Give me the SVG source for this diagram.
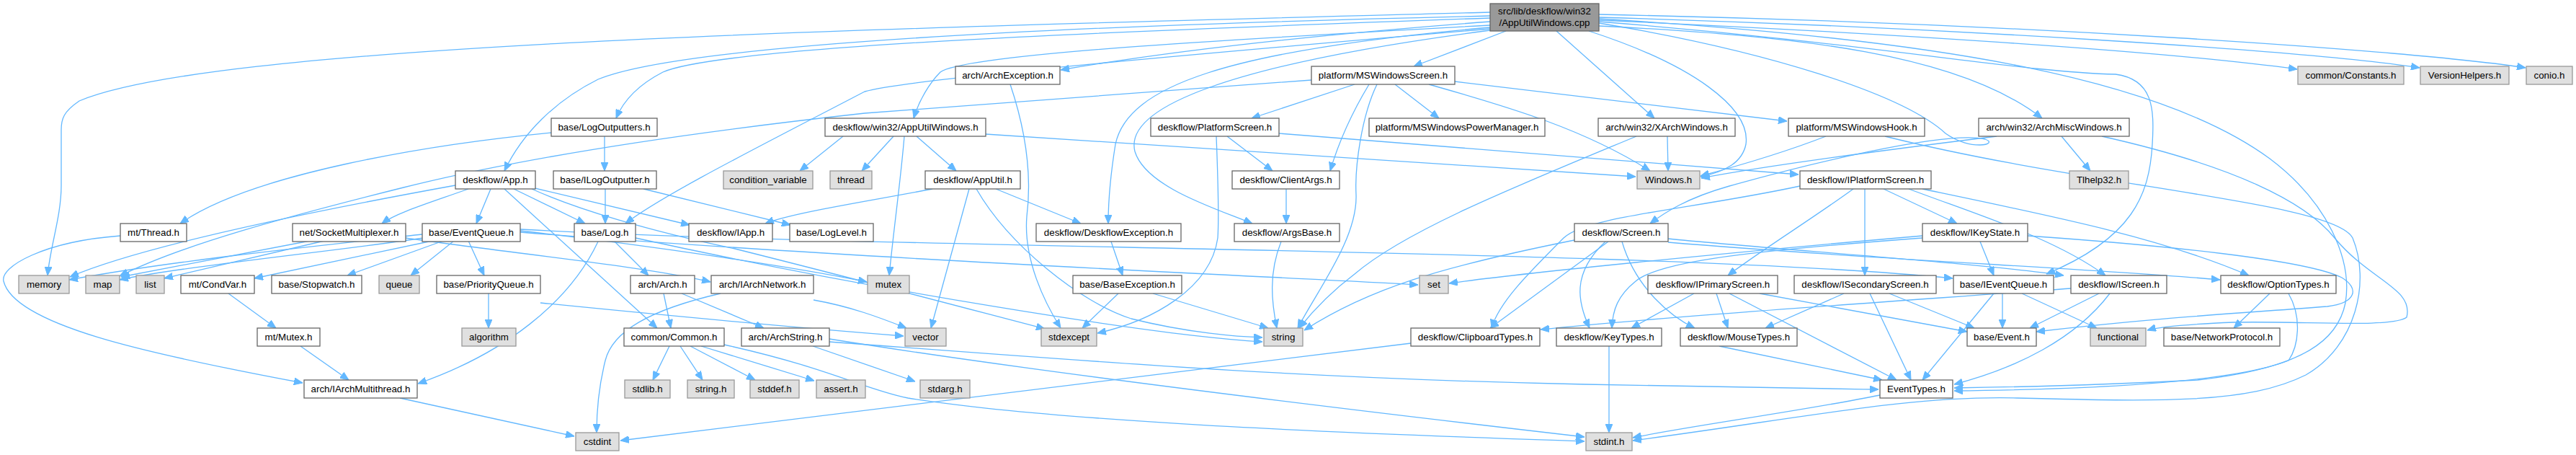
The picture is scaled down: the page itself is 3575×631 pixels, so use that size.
<svg xmlns="http://www.w3.org/2000/svg" width="3575" height="631" viewBox="0 0 3575 631">
<style>
text{font-family:"Liberation Sans",Arial,sans-serif;font-size:13.33px;text-anchor:middle;fill:#000}
.n rect{fill:#fff;stroke:#666;stroke-width:1.3}
.g rect{fill:#e0e0e0;stroke:#999;stroke-width:1.3}
.r rect{fill:#999;stroke:#666;stroke-width:1.3}
#edges path{fill:none;stroke:#63b8ff;stroke-width:1.3;marker-end:url(#a)}
</style>
<defs>
<marker id="a" viewBox="0 0 12 10" refX="12" refY="5" markerWidth="12" markerHeight="10" markerUnits="userSpaceOnUse" orient="auto"><path d="M0,0L12,5L0,10z" fill="#63b8ff" stroke="#63b8ff"/></marker>
</defs>
<rect width="3575" height="631" fill="#fff"/>
<g id="edges">
<path d="M2068,30 C1800,50 1600,75 1472,97"/>
<path d="M2090,43 L1962,92"/>
<path d="M2219,28 C2600,45 3000,70 3188,96"/>
<path d="M2219,24 C2700,38 3200,70 3358,94"/>
<path d="M2219,20 C2800,32 3350,70 3505,94"/>
<path d="M2068,25 C1500,45 1000,65 920,100 C885,118 865,140 855,164"/>
<path d="M2068,22 C1500,35 950,60 830,110 C770,140 725,185 700,237"/>
<path d="M2068,17 C1200,40 300,60 110,140 C88,155 85,165 85,180 L85,257 C85,300 70,340 66,382"/>
<path d="M2068,35 C1700,55 1340,75 1305,100 C1290,115 1275,140 1268,164"/>
<path d="M2068,40 C1600,80 1260,110 1200,127 C1060,200 920,270 868,310"/>
<path d="M2068,38 C1700,70 1565,120 1548,200 C1540,250 1538,290 1538,310"/>
<path d="M2068,42 C1700,90 1560,150 1575,210 C1590,260 1690,290 1738,310"/>
<path d="M2160,43 L2296,164"/>
<path d="M2219,36 C2500,50 2720,75 2834,164"/>
<path d="M2205,43 C2350,90 2430,150 2423,200 C2418,225 2395,238 2360,245"/>
<path d="M2219,32 C2450,70 2640,130 2700,185 C2735,210 2775,200 2755,193 C2700,180 2500,230 2400,258 C2340,275 2310,295 2290,310"/>
<path d="M2219,30 C2600,60 2800,100 2936,103 C2988,110 2990,150 2987,200 C2983,270 2960,330 2840,380"/>
<path d="M2219,26 C2700,55 3000,110 3150,220 C3230,280 3265,360 3255,420 C3245,470 3200,510 3050,527 C2900,535 2780,537 2712,538"/>
<path d="M1880,117 L1737,164"/>
<path d="M1936,117 L1997,164"/>
<path d="M1983,117 C2100,150 2200,180 2290,237"/>
<path d="M2019,113 L2480,168"/>
<path d="M1900,117 C1880,150 1860,190 1846,237"/>
<path d="M1911,117 C1890,160 1880,230 1882,270 C1884,330 1830,400 1801,455"/>
<path d="M1820,111 L1200,157 C900,190 700,225 560,260 C400,300 250,340 166,383"/>
<path d="M1775,185 L2496,242"/>
<path d="M1703,189 L1766,237"/>
<path d="M1688,189 C1690,240 1692,300 1690,330 C1680,400 1600,445 1523,462"/>
<path d="M1785,262 L1785,310"/>
<path d="M1778,335 C1760,380 1765,420 1772,455"/>
<path d="M1170,189 L1110,237"/>
<path d="M1240,189 L1196,237"/>
<path d="M1255,189 C1250,250 1240,320 1234,382"/>
<path d="M1272,189 L1327,237"/>
<path d="M1368,186 L2270,245"/>
<path d="M1294,262 C1200,280 1100,295 1062,310"/>
<path d="M1345,262 L1292,455"/>
<path d="M1355,262 C1400,340 1500,420 1570,442 C1650,462 1720,467 1752,468"/>
<path d="M1382,262 L1500,310"/>
<path d="M1542,335 L1558,382"/>
<path d="M1552,407 L1502,455"/>
<path d="M1600,407 L1760,455"/>
<path d="M1402,117 C1430,200 1430,260 1425,300 C1420,360 1450,420 1472,455"/>
<path d="M839,189 L839,237"/>
<path d="M765,184 C600,200 350,240 250,310"/>
<path d="M840,262 L840,310"/>
<path d="M893,262 L1097,312"/>
<path d="M650,262 C600,280 550,295 530,310"/>
<path d="M632,257 C450,290 200,340 97,384"/>
<path d="M681,262 L661,310"/>
<path d="M700,262 L912,455"/>
<path d="M713,262 L812,310"/>
<path d="M738,260 L957,312"/>
<path d="M738,262 C800,290 900,320 1020,345 C1200,390 1350,430 1450,456"/>
<path d="M586,325 C450,340 250,360 96,388"/>
<path d="M588,330 C450,350 250,370 166,388"/>
<path d="M600,334 L353,386"/>
<path d="M615,334 L482,382"/>
<path d="M630,334 L570,382"/>
<path d="M650,334 L672,382"/>
<path d="M722,320 C900,340 1100,370 1203,391"/>
<path d="M722,322 C1200,360 1800,385 1968,395"/>
<path d="M722,318 C1200,345 2300,345 2710,386"/>
<path d="M430,334 L168,384"/>
<path d="M450,334 L228,386"/>
<path d="M563,330 C700,350 900,370 986,391"/>
<path d="M853,335 L900,382"/>
<path d="M830,335 C790,420 700,490 580,532"/>
<path d="M882,330 C1200,400 1600,465 1752,474"/>
<path d="M921,407 L931,455"/>
<path d="M946,407 L1060,455"/>
<path d="M929,480 L906,527"/>
<path d="M944,480 L975,527"/>
<path d="M958,480 L1048,527"/>
<path d="M973,480 L1130,528"/>
<path d="M1005,478 C1150,510 1200,540 1260,552 C1500,590 2000,605 2199,612"/>
<path d="M1128,480 L1270,529"/>
<path d="M1151,470 C1400,510 1800,560 2199,606"/>
<path d="M1151,474 C1500,500 1800,525 2200,533 C2400,537 2500,539 2607,540"/>
<path d="M317,407 L383,455"/>
<path d="M417,480 L484,527"/>
<path d="M167,327 C60,335 0,370 5,390 C20,450 200,490 420,531"/>
<path d="M678,407 L678,455"/>
<path d="M750,420 C950,440 1150,458 1254,466"/>
<path d="M555,552 L797,605"/>
<path d="M1000,407 C900,430 850,460 840,500 C830,540 828,570 828,600"/>
<path d="M1129,416 C1180,425 1220,440 1258,455"/>
<path d="M1958,476 C1500,530 1100,580 861,611"/>
<path d="M2233,480 L2233,600"/>
<path d="M2386,480 L2612,527"/>
<path d="M2609,548 C2500,570 2350,590 2266,607"/>
<path d="M2616,189 C2900,260 3240,280 3265,330 C3290,390 3270,480 3200,520 C3120,560 3000,557 2800,552 C2650,548 2500,580 2266,611"/>
<path d="M2351,407 L2264,455"/>
<path d="M2382,407 L2398,455"/>
<path d="M2442,407 L2730,460"/>
<path d="M2400,407 L2632,527"/>
<path d="M2559,407 L2450,455"/>
<path d="M2595,407 L2652,527"/>
<path d="M2622,407 L2740,455"/>
<path d="M2779,407 L2779,455"/>
<path d="M2767,407 L2668,527"/>
<path d="M2806,407 L2910,455"/>
<path d="M2913,407 L2817,455"/>
<path d="M2928,407 C2880,470 2800,510 2712,533"/>
<path d="M2874,400 C2600,420 2300,440 2138,457"/>
<path d="M2748,335 L2767,382"/>
<path d="M2668,327 C2400,350 2100,380 2011,393"/>
<path d="M2668,330 C2400,350 2300,365 2270,390 C2245,410 2238,430 2237,455"/>
<path d="M2814,327 C3000,340 3200,360 3250,385 C3275,400 3270,420 3230,425 C3100,435 3000,440 2826,460"/>
<path d="M2572,262 C2520,300 2440,350 2398,382"/>
<path d="M2588,262 L2588,382"/>
<path d="M2614,262 L2716,310"/>
<path d="M2649,262 C2750,300 2850,330 2922,382"/>
<path d="M2668,262 C2850,300 3000,330 3121,382"/>
<path d="M2498,258 C2350,290 2200,300 2170,330 C2120,380 2080,420 2070,455"/>
<path d="M2232,335 L2068,455"/>
<path d="M2228,335 C2180,380 2190,420 2206,455"/>
<path d="M2251,335 C2270,400 2320,440 2352,455"/>
<path d="M2185,333 C2000,370 1900,400 1810,458"/>
<path d="M2315,331 C2450,345 2750,365 2864,382"/>
<path d="M2315,336 C2600,360 2900,372 3081,388"/>
<path d="M2314,189 L2315,237"/>
<path d="M2271,189 C2100,260 1950,320 1880,380 C1840,410 1815,440 1803,455"/>
<path d="M2534,189 C2480,210 2420,228 2360,244"/>
<path d="M2771,189 C2600,210 2450,230 2361,247"/>
<path d="M2861,189 L2901,237"/>
<path d="M2917,189 C3100,230 3200,280 3240,330 C3290,390 3350,400 3340,440 C3320,455 3200,445 3100,447 C3050,449 3000,452 2980,458"/>
<path d="M3150,407 L3100,455"/>
<path d="M3176,407 C3195,440 3190,480 3176,500 C3100,530 2900,540 2712,542"/>
</g>
<g id="root" class="r"><rect x="2068" y="5" width="151" height="38"/><text x="2143.5" y="20">src/lib/deskflow/win32</text><text x="2143.5" y="36">/AppUtilWindows.cpp</text></g>
<g id="archException" class="n"><rect x="1326" y="92" width="145" height="25"/><text x="1398.5" y="109">arch/ArchException.h</text></g>
<g id="msWindowsScreen" class="n"><rect x="1820" y="92" width="199" height="25"/><text x="1919.5" y="109">platform/MSWindowsScreen.h</text></g>
<g id="constants" class="g"><rect x="3189" y="92" width="147" height="25"/><text x="3262.5" y="109">common/Constants.h</text></g>
<g id="versionHelpers" class="g"><rect x="3359" y="92" width="123" height="25"/><text x="3420.5" y="109">VersionHelpers.h</text></g>
<g id="conio" class="g"><rect x="3506" y="92" width="64" height="25"/><text x="3538" y="109">conio.h</text></g>
<g id="logOutputters" class="n"><rect x="765" y="164" width="147" height="25"/><text x="838.5" y="181">base/LogOutputters.h</text></g>
<g id="appUtilWindowsH" class="n"><rect x="1145" y="164" width="223" height="25"/><text x="1256.5" y="181">deskflow/win32/AppUtilWindows.h</text></g>
<g id="platformScreen" class="n"><rect x="1597" y="164" width="178" height="25"/><text x="1686" y="181">deskflow/PlatformScreen.h</text></g>
<g id="powerManager" class="n"><rect x="1900" y="164" width="244" height="25"/><text x="2022" y="181">platform/MSWindowsPowerManager.h</text></g>
<g id="xArchWindows" class="n"><rect x="2218" y="164" width="190" height="25"/><text x="2313" y="181">arch/win32/XArchWindows.h</text></g>
<g id="msWindowsHook" class="n"><rect x="2482" y="164" width="189" height="25"/><text x="2576.5" y="181">platform/MSWindowsHook.h</text></g>
<g id="archMiscWindows" class="n"><rect x="2746" y="164" width="209" height="25"/><text x="2850.5" y="181">arch/win32/ArchMiscWindows.h</text></g>
<g id="app" class="n"><rect x="632" y="237" width="111" height="25"/><text x="687.5" y="254">deskflow/App.h</text></g>
<g id="iLogOutputter" class="n"><rect x="768" y="237" width="143" height="25"/><text x="839.5" y="254">base/ILogOutputter.h</text></g>
<g id="conditionVariable" class="g"><rect x="1004" y="237" width="124" height="25"/><text x="1066" y="254">condition_variable</text></g>
<g id="thread" class="g"><rect x="1152" y="237" width="58" height="25"/><text x="1181" y="254">thread</text></g>
<g id="appUtil" class="n"><rect x="1284" y="237" width="132" height="25"/><text x="1350" y="254">deskflow/AppUtil.h</text></g>
<g id="clientArgs" class="n"><rect x="1710" y="237" width="149" height="25"/><text x="1784.5" y="254">deskflow/ClientArgs.h</text></g>
<g id="windowsH" class="g"><rect x="2272" y="237" width="87" height="25"/><text x="2315.5" y="254">Windows.h</text></g>
<g id="iPlatformScreen" class="n"><rect x="2498" y="237" width="182" height="25"/><text x="2589" y="254">deskflow/IPlatformScreen.h</text></g>
<g id="tlhelp32" class="g"><rect x="2872" y="237" width="82" height="25"/><text x="2913" y="254">Tlhelp32.h</text></g>
<g id="mtThread" class="n"><rect x="167" y="310" width="92" height="25"/><text x="213" y="327">mt/Thread.h</text></g>
<g id="socketMultiplexer" class="n"><rect x="406" y="310" width="157" height="25"/><text x="484.5" y="327">net/SocketMultiplexer.h</text></g>
<g id="eventQueue" class="n"><rect x="586" y="310" width="136" height="25"/><text x="654" y="327">base/EventQueue.h</text></g>
<g id="log" class="n"><rect x="797" y="310" width="85" height="25"/><text x="839.5" y="327">base/Log.h</text></g>
<g id="iApp" class="n"><rect x="956" y="310" width="116" height="25"/><text x="1014" y="327">deskflow/IApp.h</text></g>
<g id="logLevel" class="n"><rect x="1096" y="310" width="116" height="25"/><text x="1154" y="327">base/LogLevel.h</text></g>
<g id="deskflowException" class="n"><rect x="1438" y="310" width="201" height="25"/><text x="1538.5" y="327">deskflow/DeskflowException.h</text></g>
<g id="argsBase" class="n"><rect x="1713" y="310" width="146" height="25"/><text x="1786" y="327">deskflow/ArgsBase.h</text></g>
<g id="screen" class="n"><rect x="2185" y="310" width="130" height="25"/><text x="2250" y="327">deskflow/Screen.h</text></g>
<g id="iKeyState" class="n"><rect x="2668" y="310" width="146" height="25"/><text x="2741" y="327">deskflow/IKeyState.h</text></g>
<g id="memory" class="g"><rect x="26" y="382" width="70" height="25"/><text x="61" y="399">memory</text></g>
<g id="map" class="g"><rect x="119" y="382" width="47" height="25"/><text x="142.5" y="399">map</text></g>
<g id="list" class="g"><rect x="189" y="382" width="39" height="25"/><text x="208.5" y="399">list</text></g>
<g id="condVar" class="n"><rect x="251" y="382" width="102" height="25"/><text x="302" y="399">mt/CondVar.h</text></g>
<g id="stopwatch" class="n"><rect x="377" y="382" width="125" height="25"/><text x="439.5" y="399">base/Stopwatch.h</text></g>
<g id="queue" class="g"><rect x="526" y="382" width="56" height="25"/><text x="554" y="399">queue</text></g>
<g id="priorityQueue" class="n"><rect x="606" y="382" width="144" height="25"/><text x="678" y="399">base/PriorityQueue.h</text></g>
<g id="arch" class="n"><rect x="875" y="382" width="89" height="25"/><text x="919.5" y="399">arch/Arch.h</text></g>
<g id="iArchNetwork" class="n"><rect x="987" y="382" width="142" height="25"/><text x="1058" y="399">arch/IArchNetwork.h</text></g>
<g id="mutex" class="g"><rect x="1204" y="382" width="58" height="25"/><text x="1233" y="399">mutex</text></g>
<g id="baseException" class="n"><rect x="1489" y="382" width="151" height="25"/><text x="1564.5" y="399">base/BaseException.h</text></g>
<g id="set" class="g"><rect x="1970" y="382" width="40" height="25"/><text x="1990" y="399">set</text></g>
<g id="iPrimaryScreen" class="n"><rect x="2287" y="382" width="180" height="25"/><text x="2377" y="399">deskflow/IPrimaryScreen.h</text></g>
<g id="iSecondaryScreen" class="n"><rect x="2490" y="382" width="197" height="25"/><text x="2588.5" y="399">deskflow/ISecondaryScreen.h</text></g>
<g id="iEventQueue" class="n"><rect x="2711" y="382" width="139" height="25"/><text x="2780.5" y="399">base/IEventQueue.h</text></g>
<g id="iScreen" class="n"><rect x="2874" y="382" width="133" height="25"/><text x="2940.5" y="399">deskflow/IScreen.h</text></g>
<g id="optionTypes" class="n"><rect x="3082" y="382" width="160" height="25"/><text x="3162" y="399">deskflow/OptionTypes.h</text></g>
<g id="mtMutex" class="n"><rect x="357" y="455" width="87" height="25"/><text x="400.5" y="472">mt/Mutex.h</text></g>
<g id="algorithm" class="g"><rect x="641" y="455" width="75" height="25"/><text x="678.5" y="472">algorithm</text></g>
<g id="common" class="n"><rect x="866" y="455" width="139" height="25"/><text x="935.5" y="472">common/Common.h</text></g>
<g id="archString" class="n"><rect x="1029" y="455" width="122" height="25"/><text x="1090" y="472">arch/ArchString.h</text></g>
<g id="vector" class="g"><rect x="1256" y="455" width="57" height="25"/><text x="1284.5" y="472">vector</text></g>
<g id="stdexcept" class="g"><rect x="1445" y="455" width="77" height="25"/><text x="1483.5" y="472">stdexcept</text></g>
<g id="string" class="g"><rect x="1754" y="455" width="54" height="25"/><text x="1781" y="472">string</text></g>
<g id="clipboardTypes" class="n"><rect x="1958" y="455" width="179" height="25"/><text x="2047.5" y="472">deskflow/ClipboardTypes.h</text></g>
<g id="keyTypes" class="n"><rect x="2160" y="455" width="146" height="25"/><text x="2233" y="472">deskflow/KeyTypes.h</text></g>
<g id="mouseTypes" class="n"><rect x="2332" y="455" width="162" height="25"/><text x="2413" y="472">deskflow/MouseTypes.h</text></g>
<g id="event" class="n"><rect x="2730" y="455" width="96" height="25"/><text x="2778" y="472">base/Event.h</text></g>
<g id="functional" class="g"><rect x="2901" y="455" width="77" height="25"/><text x="2939.5" y="472">functional</text></g>
<g id="networkProtocol" class="n"><rect x="3003" y="455" width="161" height="25"/><text x="3083.5" y="472">base/NetworkProtocol.h</text></g>
<g id="iArchMultithread" class="n"><rect x="422" y="527" width="157" height="25"/><text x="500.5" y="544">arch/IArchMultithread.h</text></g>
<g id="stdlib" class="g"><rect x="867" y="527" width="63" height="25"/><text x="898.5" y="544">stdlib.h</text></g>
<g id="stringH" class="g"><rect x="954" y="527" width="65" height="25"/><text x="986.5" y="544">string.h</text></g>
<g id="stddef" class="g"><rect x="1041" y="527" width="68" height="25"/><text x="1075" y="544">stddef.h</text></g>
<g id="assert" class="g"><rect x="1133" y="527" width="68" height="25"/><text x="1167" y="544">assert.h</text></g>
<g id="stdarg" class="g"><rect x="1277" y="527" width="69" height="25"/><text x="1311.5" y="544">stdarg.h</text></g>
<g id="eventTypes" class="n"><rect x="2609" y="527" width="101" height="25"/><text x="2659.5" y="544">EventTypes.h</text></g>
<g id="cstdint" class="g"><rect x="799" y="600" width="60" height="25"/><text x="829" y="617">cstdint</text></g>
<g id="stdint" class="g"><rect x="2201" y="600" width="64" height="25"/><text x="2233" y="617">stdint.h</text></g>
</svg>
